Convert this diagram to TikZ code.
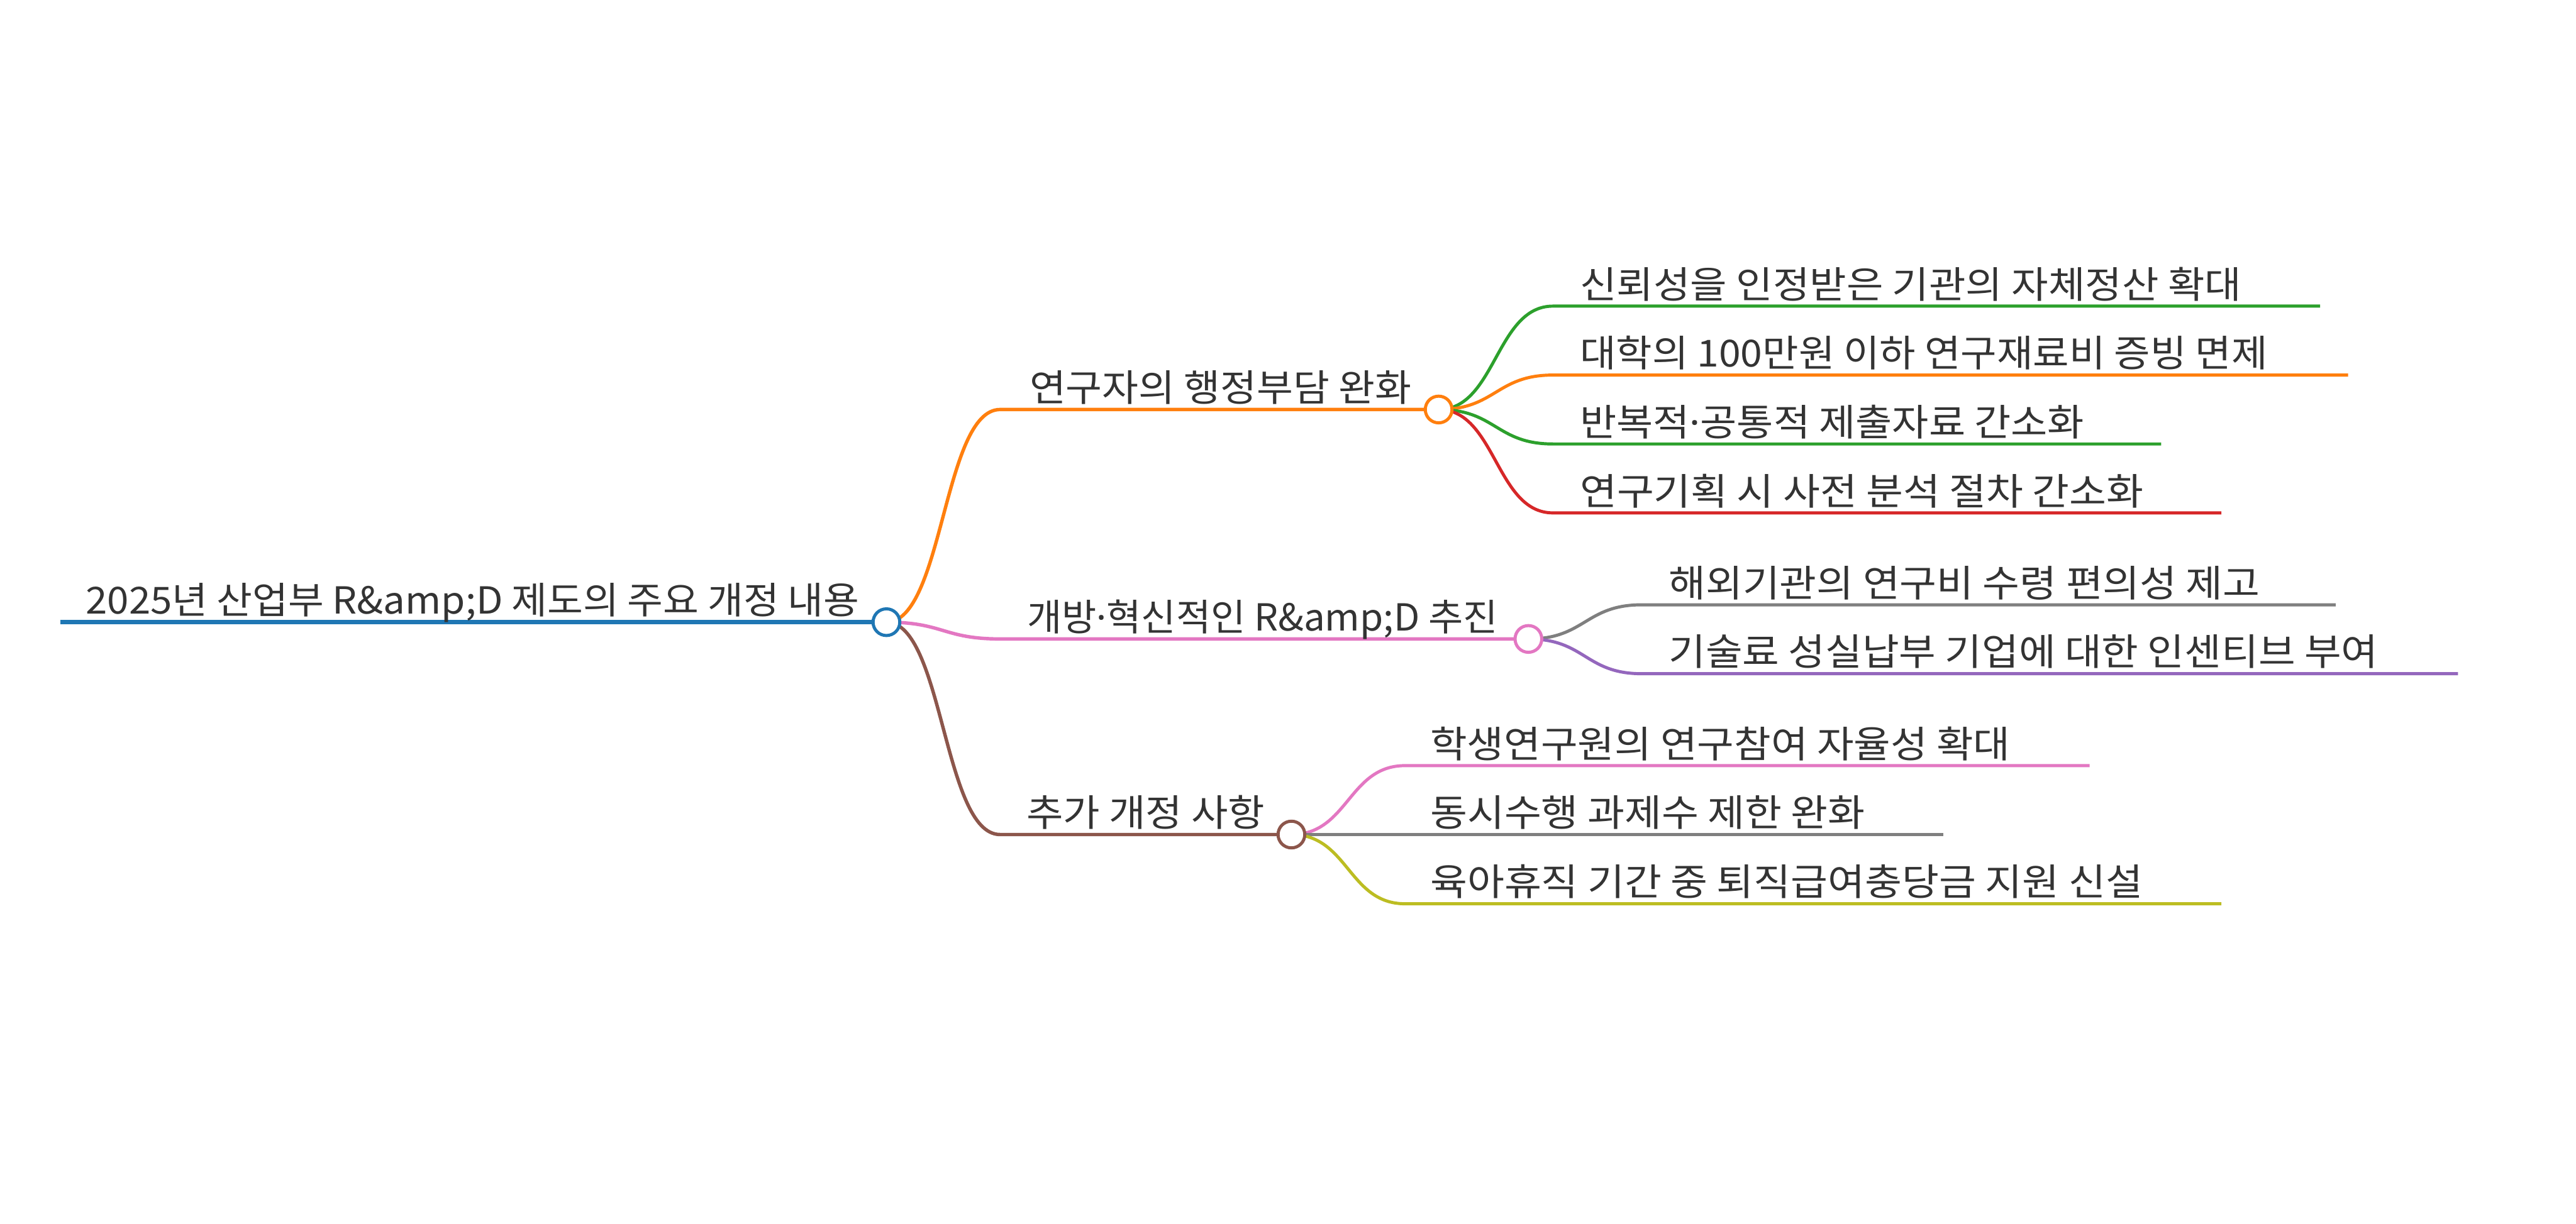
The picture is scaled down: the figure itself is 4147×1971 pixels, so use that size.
\documentclass[tikz,border=0pt]{standalone}
\usepackage{graphicx}
\usepackage{fontspec}
\setmainfont{Noto Sans CJK KR}
\newfontfamily\dotfont{Noto Sans}
\usetikzlibrary{calc}
\definecolor{cblue}{HTML}{1F77B4}
\definecolor{corange}{HTML}{FF7F0E}
\definecolor{cgreen}{HTML}{2CA02C}
\definecolor{cred}{HTML}{D62728}
\definecolor{cpurple}{HTML}{9467BD}
\definecolor{cbrown}{HTML}{8C564B}
\definecolor{cpink}{HTML}{E377C2}
\definecolor{cgray}{HTML}{7F7F7F}
\definecolor{colive}{HTML}{BCBD22}
\definecolor{txt}{HTML}{333333}
\newcommand\fitw[2]{\resizebox{#1pt}{\height}{#2}}
\newcommand\mdot{{\dotfont ·}}
\pgfdeclarelayer{back}
\pgfdeclarelayer{links}
\pgfsetlayers{back,links,main}
\begin{document}
\begin{tikzpicture}[x=0.5pt,y=-0.5pt,
  lbl/.style={anchor=base west, inner sep=0pt, text=txt, font=\fontsize{30pt}{36pt}\selectfont},
  link/.style={to path={.. controls ($(\tikztostart)!0.5!(\tikztotarget|-\tikztostart)$) and ($(\tikztostart|-\tikztotarget)!0.5!(\tikztotarget)$) .. (\tikztotarget)}},
  rootline/.style={line width=3.5pt},
  midline/.style={line width=2.75pt},
  leafline/.style={line width=2.5pt},
  knot/.style={circle, draw, line width=2.5pt, fill=white, minimum size=21.5pt, inner sep=0pt}]
\useasboundingbox (0,0) rectangle (4147,1971);
\begin{pgfonlayer}{back}
\fill[white] (0,0) rectangle (4147,1971);
\end{pgfonlayer}

% root
\coordinate (r0) at (97,1002);
\node[lbl] (rt) at (138,989) {\fitw{622.5}{2025년 산업부 R\&amp;D 제도의 주요 개정 내용}};
\node[knot,draw=cblue] (r) at (1427,1002) {};

% branch 1
\coordinate (a0) at (1610,659.5);
\node[lbl] (at) at (1657,646.5) {\fitw{307.5}{연구자의 행정부담 완화}};
\node[knot,draw=corange] (a) at (2316,659.5) {};
\coordinate (a1s) at (2500,493);   \coordinate (a1e) at (3735,493);
\coordinate (a2s) at (2500,604);   \coordinate (a2e) at (3780,604);
\coordinate (a3s) at (2500,715);   \coordinate (a3e) at (3479,715);
\coordinate (a4s) at (2500,826);   \coordinate (a4e) at (3576,826);
\node[lbl] (a1t) at (2543,480) {\fitw{532.5}{신뢰성을 인정받은 기관의 자체정산 확대}};
\node[lbl] (a2t) at (2543,591) {\fitw{553.5}{대학의 100만원 이하 연구재료비 증빙 면제}};
\node[lbl] (a3t) at (2543,702) {\fitw{406}{반복적\mdot 공통적 제출자료 간소화}};
\node[lbl] (a4t) at (2543,813) {\fitw{453.5}{연구기획 시 사전 분석 절차 간소화}};

% branch 2
\coordinate (b0) at (1610,1029);
\node[lbl] (bt) at (1653,1016) {\fitw{379}{개방\mdot 혁신적인 R\&amp;D 추진}};
\node[knot,draw=cpink] (b) at (2460.5,1029) {};
\coordinate (b1s) at (2643,974);   \coordinate (b1e) at (3760,974);
\coordinate (b2s) at (2643,1085);  \coordinate (b2e) at (3957,1085);
\node[lbl] (b1t) at (2686,961) {\fitw{476}{해외기관의 연구비 수령 편의성 제고}};
\node[lbl] (b2t) at (2686,1072) {\fitw{571}{기술료 성실납부 기업에 대한 인센티브 부여}};

% branch 3
\coordinate (c0) at (1610,1344);
\node[lbl] (ct) at (1652,1331) {\fitw{192}{추가 개정 사항}};
\node[knot,draw=cbrown] (c) at (2079,1344) {};
\coordinate (c1s) at (2262,1233);  \coordinate (c1e) at (3364,1233);
\coordinate (c2s) at (2262,1344);  \coordinate (c2e) at (3128,1344);
\coordinate (c3s) at (2262,1455.5);\coordinate (c3e) at (3576,1455.5);
\node[lbl] (c1t) at (2302,1220) {\fitw{467}{학생연구원의 연구참여 자율성 확대}};
\node[lbl] (c2t) at (2302,1331) {\fitw{350}{동시수행 과제수 제한 완화}};
\node[lbl] (c3t) at (2302,1442.5) {\fitw{573.5}{육아휴직 기간 중 퇴직급여충당금 지원 신설}};

\begin{pgfonlayer}{links}
\draw[rootline,cblue] (r0) -- (r.center);
\draw[midline,corange] (r.center) to[link] (a0) -- (a.center);
\draw[midline,cpink] (r.center) to[link] (b0) -- (b.center);
\draw[midline,cbrown] (r.center) to[link] (c0) -- (c.center);
\draw[leafline,cgreen] (a.center) to[link] (a1s) -- (a1e);
\draw[leafline,corange] (a.center) to[link] (a2s) -- (a2e);
\draw[leafline,cgreen] (a.center) to[link] (a3s) -- (a3e);
\draw[leafline,cred] (a.center) to[link] (a4s) -- (a4e);
\draw[leafline,cgray] (b.center) to[link] (b1s) -- (b1e);
\draw[leafline,cpurple] (b.center) to[link] (b2s) -- (b2e);
\draw[leafline,cpink] (c.center) to[link] (c1s) -- (c1e);
\draw[leafline,cgray] (c.center) to[link] (c2s) -- (c2e);
\draw[leafline,colive] (c.center) to[link] (c3s) -- (c3e);
\end{pgfonlayer}
\end{tikzpicture}
\end{document}
